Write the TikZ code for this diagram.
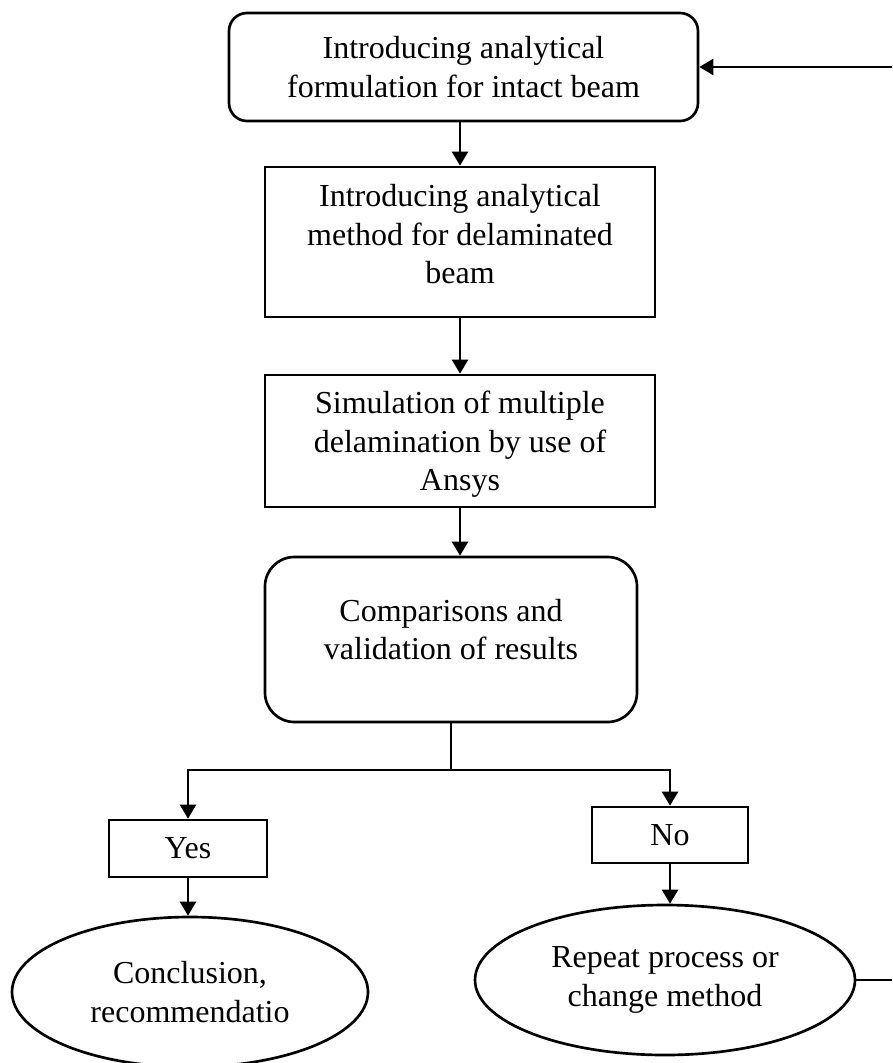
\documentclass[tikz,border=0pt]{standalone}
\usepackage{fontspec}
\setmainfont{Liberation Serif}
\usepackage{tikz}
\usetikzlibrary{arrows.meta,shapes.geometric}
\newcommand{\fsz}{\fontsize{24}{29}\selectfont}
\tikzset{
  rbx/.style={draw, line width=2pt, align=center, inner sep=0pt, font=\fsz},
  sbx/.style={draw, line width=2pt, align=center, inner sep=0pt, font=\fsz},
  ovl/.style={draw, ellipse, line width=2pt, align=center, inner sep=0pt, font=\fsz},
  ar/.style={-{Triangle[length=10.5pt,width=12pt]}, line width=1.8pt},
  ln/.style={line width=1.8pt},
}

\begin{document}
\begin{tikzpicture}[x=0.75pt, y=-0.75pt]
\useasboundingbox (0,0) rectangle (892,1063);

% main column
\node[rbx, rounded corners=13.5pt, minimum width=351.75pt, minimum height=81pt] (intact) at (463.5,67)
  {Introducing analytical\\formulation for intact beam};
\node[sbx, minimum width=292.5pt, minimum height=112.5pt, text depth=12pt] (delam) at (460,242)
  {Introducing analytical\\method for delaminated\\beam};
\node[sbx, minimum width=292.5pt, minimum height=99pt, text depth=-5.3pt] (ansys) at (460,441)
  {Simulation of multiple\\delamination by use of\\Ansys};
\node[rbx, rounded corners=22pt, minimum width=279pt, minimum height=123.75pt, text depth=15pt] (compare) at (451,639.5)
  {Comparisons and\\validation of results};

% decision
\node[sbx, minimum width=118.5pt, minimum height=42.75pt] (yes) at (188,848.5) {Yes};
\node[sbx, minimum width=117pt, minimum height=42pt] (no) at (670,835) {No};
\node[ovl, minimum width=267pt, minimum height=112.5pt] (concl) at (190,992)
  {Conclusion,\\recommendatio};
\node[ovl, minimum width=285pt, minimum height=112.5pt] (repeat) at (665,980)
  {Repeat process or\\change method};

\coordinate (split) at (451,770);
\coordinate (loopin) at (892,67);
\coordinate (loopout) at (892,980);

% connectors
\draw[ar] (delam.north |- intact.south) -- (delam.north);
\draw[ar] (delam.south) -- (ansys.north);
\draw[ar] (ansys.south) -- (ansys.south |- compare.north);
\draw[ln] (compare.south) -- (split);
\draw[ar] (split) -| (yes.north);
\draw[ar] (split) -| (no.north);
\draw[ar] (yes.south) -- (yes.south |- concl.north);
\draw[ar] (no.south) -- (no.south |- repeat.north);
\draw[ln] (repeat.east) -- (loopout);
\draw[ar] (loopin) -- (intact.east);
\end{tikzpicture}
\end{document}
